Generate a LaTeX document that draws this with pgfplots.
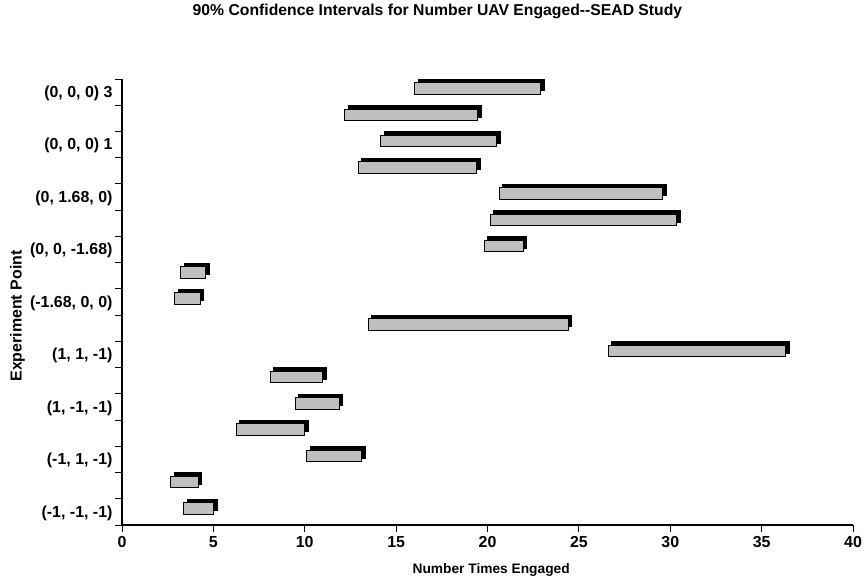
\documentclass[border=0pt]{standalone}
\usepackage{fontspec}
\setmainfont{Liberation Sans}
\usepackage{pgfplots}
\usepackage{pgfplotstable}
\pgfplotsset{compat=1.18}

% 90% intervals, row y=17 is the top bar
\pgfplotstableread{
y  lo    hi
17 16.03 22.90
16 12.20 19.46
15 14.17 20.50
14 12.93 19.40
13 20.65 29.60
12 20.14 30.35
11 19.83 21.96
10  3.21  4.58
9   2.90  4.27
8  13.48 24.42
7  26.60 36.33
6   8.10 10.98
5   9.47 11.89
4   6.24 10.01
3  10.10 13.12
2   2.66  4.17
1   3.39  5.03
}\intervals

\begin{document}
\begin{tikzpicture}
\useasboundingbox (0,0) rectangle (864bp,577bp);
\begin{axis}[
  at={(122bp,52bp)}, anchor=south west,
  scale only axis, width=731bp, height=446bp,
  xmin=0, xmax=40, ymin=0.5, ymax=17.5,
  axis x line*=bottom, axis y line*=left,
  axis line style={-, line width=1.3bp},
  xtick={0,5,...,40},
  ytick={0.5,1.5,...,17.5}, yticklabels={},
  extra y ticks={1,3,...,17},
  extra y tick labels={{(-1, -1, -1)},{(-1, 1, -1)},{(1, -1, -1)},{(1, 1, -1)},{(-1.68, 0, 0)},{(0, 0, -1.68)},{(0, 1.68, 0)},{(0, 0, 0) 1},{(0, 0, 0) 3}},
  extra y tick style={major tick length=0pt, yticklabel style={xshift=-6bp, yshift=-1bp}},
  tick align=outside, major tick length=7bp,
  tick style={black, line width=0.9bp},
  /pgf/number format/assume math mode=true,
  ticklabel style={font=\fontsize{16}{19}\selectfont\bfseries},
  xticklabel style={yshift=-1bp},
  xbar stacked, bar width=11.5bp, bar shift=3.5bp,
  title={90\% Confidence Intervals for Number UAV Engaged-{}-SEAD Study},
  title style={at={(axis description cs:0.4316,1.139)}, anchor=center, font=\fontsize{15.8}{18}\selectfont\bfseries},
  xlabel={Number Times Engaged},
  xlabel style={at={(axis description cs:0.505,-0.101)}, anchor=center, font=\fontsize{13.8}{16}\selectfont\bfseries},
  ylabel={Experiment Point},
  ylabel style={at={(axis description cs:-0.143,0.4686)}, anchor=center, rotate=0, font=\fontsize{16}{18}\selectfont\bfseries},
]
\addplot[draw=none, fill=none] table[x=lo, y=y] {\intervals};
\addplot[draw=black, line width=1bp, fill=black!25,
  preaction={fill=black, draw=black, transform canvas={shift={(3.5bp,3.5bp)}}}]
  table[x expr=\thisrow{hi}-\thisrow{lo}, y=y] {\intervals};
\end{axis}
\end{tikzpicture}
\end{document}
